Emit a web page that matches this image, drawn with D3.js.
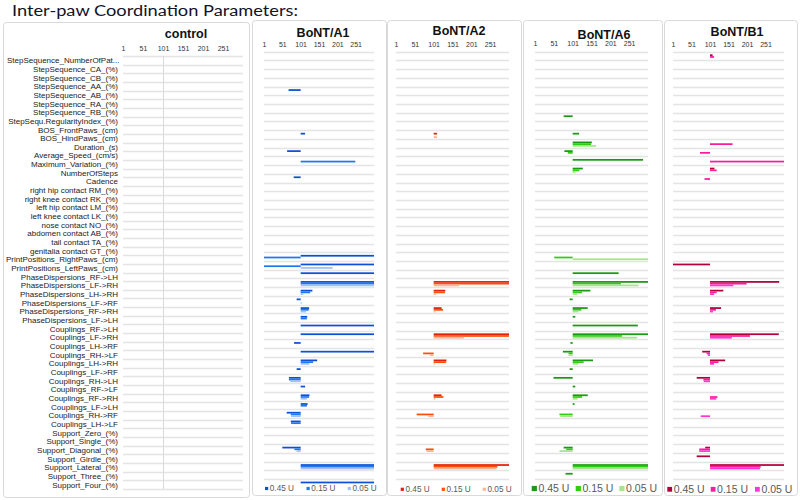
<!DOCTYPE html>
<html><head><meta charset="utf-8">
<script src="https://cdn.jsdelivr.net/npm/d3@7/dist/d3.min.js"></script>
<style>
body{margin:0;background:#fff;}
svg{display:block;font-family:"Liberation Sans",Arial,sans-serif;}
</style>
</head><body>
<svg id="chart" width="800" height="500"></svg>
<script>
// ---------------- DATA ----------------
const categories = [
 "StepSequence_NumberOfPat...","StepSequence_CA_(%)","StepSequence_CB_(%)","StepSequence_AA_(%)",
 "StepSequence_AB_(%)","StepSequence_RA_(%)","StepSequence_RB_(%)","StepSequ.RegularityIndex_(%)",
 "BOS_FrontPaws_(cm)","BOS_HindPaws_(cm)","Duration_(s)","Average_Speed_(cm/s)",
 "Maximum_Variation_(%)","NumberOfSteps","Cadence","right hip contact RM_(%)",
 "right knee contact RK_(%)","left hip contact LM_(%)","left knee contact LK_(%)","nose contact NO_(%)",
 "abdomen contact AB_(%)","tail contact TA_(%)","genitalia contact GT_(%)","PrintPositions_RightPaws_(cm)",
 "PrintPositions_LeftPaws_(cm)","PhaseDispersions_RF->LH","PhaseDispersions_LF->RH","PhaseDispersions_LH->RH",
 "PhaseDispersions_LF->RF","PhaseDispersions_RF->RH","PhaseDispersions_LF->LH","Couplings_RF->LH",
 "Couplings_LF->RH","Couplings_LH->RF","Couplings_RH->LF","Couplings_LH->RH",
 "Couplings_LF->RF","Couplings_RH->LH","Couplings_RF->LF","Couplings_RF->RH",
 "Couplings_LF->LH","Couplings_RH->RF","Couplings_LH->LF","Support_Zero_(%)",
 "Support_Single_(%)","Support_Diagonal_(%)","Support_Girdle_(%)","Support_Lateral_(%)",
 "Support_Three_(%)","Support_Four_(%)"
];
const panelTitles = ["control","BoNT/A1","BoNT/A2","BoNT/A6","BoNT/B1"];
const doses = ["0.45 U","0.15 U","0.05 U"];
const tickValues = [1,51,101,151,201,251];
const axisDomain = [1,301];
const baselineValue = 101;

// series values: [category index, value] (only non-empty bars)
const A1_045 = [[4,68],[9,113],[11,64],[14,82],[23,301],[24,301],[25,301],[26,301],[27,133],[28,90],[29,124],[30,119],[31,301],[32,301],[33,83],[34,301],[35,146],[36,90],[37,69],[38,113],[39,125],[40,120],[41,63],[42,74],[45,51],[47,301],[49,301]];
const A1_015 = [[12,250],[23,1],[24,1],[26,301],[27,127],[29,123],[30,118],[35,135],[37,69],[39,124],[40,118],[41,74],[42,75],[45,84],[47,301]];
const A1_005 = [[24,188],[26,301],[27,108],[28,104],[29,116],[35,125],[37,73],[39,118],[41,75],[45,90],[47,301]];

const A2_045 = [[9,110],[26,301],[27,132],[29,122],[32,301],[35,135],[39,122],[47,301]];
const A2_015 = [[26,301],[27,131],[29,126],[32,301],[34,73],[35,134],[39,127],[41,56],[45,80],[47,270]];
const A2_005 = [[9,110],[26,169],[27,107],[29,106],[32,181],[34,91],[35,104],[39,105],[41,87],[45,82],[47,268]];

const A6_045 = [[7,77],[9,118],[10,152],[11,79],[12,288],[13,128],[25,223],[26,301],[27,148],[28,93],[29,141],[30,108],[31,274],[32,301],[33,95],[34,75],[35,155],[36,93],[37,50],[38,108],[39,141],[40,106],[45,77],[47,301],[48,82]];
const A6_015 = [[10,150],[11,88],[13,119],[23,52],[26,229],[27,126],[29,124],[32,232],[34,90],[35,130],[39,126],[41,66],[45,84],[47,301]];
const A6_005 = [[10,163],[13,108],[23,301],[26,276],[27,113],[29,116],[32,272],[34,90],[35,116],[39,114],[41,68],[45,66],[47,301]];

const B1_045 = [[0,108],[13,113],[24,1],[26,288],[27,137],[29,131],[32,287],[34,80],[35,142],[37,65],[45,88],[46,65],[47,301]];
const B1_015 = [[0,112],[10,162],[11,74],[12,301],[13,119],[14,86],[26,200],[27,119],[29,117],[32,209],[34,92],[35,124],[37,83],[39,121],[45,72],[47,238]];
const B1_005 = [[26,164],[27,112],[29,109],[32,160],[34,95],[35,112],[37,84],[39,118],[41,76],[45,72],[47,236]];

// ---------------- LAYOUT / STYLE ----------------
const panels = [
 {title:panelTitles[0], box:[3,22,246,475], plot:[123,243], rows:[56,489], bottomLine:true,
  titleX:186, titleY:38, tickY:50.5, series:null},
 {title:panelTitles[1], box:[252,20,134,475], plot:[264,374], rows:[51.7,487.7],
  titleX:323, titleY:36.5, tickY:46.5, series:[A1_045,A1_015,A1_005],
  colors:["#0b50d6","#1f78f0","#a2c0f6"], legend:{x:[265,306.5,347.7], y:488.5, fs:8.2, ms:3.2}},
 {title:panelTitles[2], box:[387,20,134,475], plot:[396,509], rows:[51.7,487.7],
  titleX:459, titleY:35, tickY:46.5, series:[A2_045,A2_015,A2_005],
  colors:["#e3200a","#ff4f05","#f8b596"], legend:{x:[400.7,441.7,482.7], y:489.3, fs:8.2, ms:3.2}},
 {title:panelTitles[3], box:[523,20,139,475], plot:[535,648], rows:[51.7,487.7],
  titleX:604, titleY:38.5, tickY:46.2, series:[A6_045,A6_015,A6_005],
  colors:["#1a9a14","#30cc14","#a8e48c"], legend:{x:[531.7,575.7,619.3], y:488.5, fs:10.5, ms:5.2}},
 {title:panelTitles[4], box:[664,20,133,475], plot:[673,784], rows:[51.7,487.7],
  titleX:737, titleY:35.8, tickY:46.5, series:[B1_045,B1_015,B1_005],
  colors:["#b2003c","#fa1c9c","#ff36d6"], legend:{x:[667.3,710.7,755],y:489.3, fs:10.5, ms:4.8}}
];

const svg = d3.select("#chart");
svg.append("rect").attr("width",800).attr("height",500).attr("fill","#fff");

// main title
svg.append("text").attr("x",12).attr("y",15.5)
  .attr("font-family","Lato,'Open Sans',sans-serif").attr("font-size",15.5).attr("font-weight",400)
  .attr("textLength",286).attr("lengthAdjust","spacingAndGlyphs")
  .attr("fill","#12122a").text("Inter-paw Coordination Parameters:");

panels.forEach((p,pi)=>{
  const g = svg.append("g");
  g.append("rect").attr("x",p.box[0]+0.5).attr("y",p.box[1]+0.5)
    .attr("width",p.box[2]).attr("height",p.box[3]).attr("rx",3)
    .attr("fill","#fff").attr("stroke","#d9d9d9").attr("stroke-width",1);

  const x = d3.scaleLinear().domain(axisDomain).range(p.plot);
  const y = d3.scaleBand().domain(d3.range(categories.length)).range(p.rows).paddingInner(0).paddingOuter(0);
  const step = y.step();
  const sub = d3.scaleBand().domain(doses).range([0.3*step, 0.9*step]);

  // title
  g.append("text").attr("x",p.titleX).attr("y",p.titleY).attr("text-anchor","middle")
    .attr("font-size",12.5).attr("font-weight","bold").attr("fill","#111").text(p.title);

  // axis ticks (top)
  const ax = g.append("g").attr("transform",`translate(0,${p.tickY})`)
    .call(d3.axisTop(x).tickValues(tickValues).tickSize(0).tickPadding(0).tickFormat(d3.format("d")));
  ax.select(".domain").remove();
  ax.selectAll("text").attr("font-size",7).attr("fill","#333").attr("font-family","'Liberation Sans',Arial,sans-serif");

  // gridlines
  const lines = d3.range(categories.length).map(k=>y(k));
  if (p.bottomLine) lines.push(p.rows[1]);
  g.selectAll("line.grid").data(lines).join("line").attr("class","grid")
    .attr("x1",p.plot[0]).attr("x2",p.plot[1])
    .attr("y1",d=>Math.round(d)+0.5).attr("y2",d=>Math.round(d)+0.5)
    .attr("stroke","#e4e4e4").attr("stroke-width",1.3);

  if (!p.series) {
    // baseline line + category labels
    g.append("line").attr("x1",Math.round(x(baselineValue))+0.5).attr("x2",Math.round(x(baselineValue))+0.5)
      .attr("y1",p.rows[0]).attr("y2",p.rows[1]).attr("stroke","#d9d9d9").attr("stroke-width",1);
    g.selectAll("text.cat").data(categories).join("text").attr("class","cat")
      .attr("x",d=>d.endsWith("...")?7:118)
      .attr("text-anchor",d=>d.endsWith("...")?"start":"end")
      .attr("y",(d,i)=>y(i)+step/2+2.9)
      .attr("font-size",8).attr("fill","#222").text(d=>d);
    return;
  }

  // bars
  p.series.forEach((s,si)=>{
    g.append("g").selectAll("rect").data(s).join("rect")
      .attr("x",d=>Math.min(x(baselineValue),x(Math.max(axisDomain[0],Math.min(axisDomain[1],d[1])))))
      .attr("width",d=>Math.abs(x(Math.max(axisDomain[0],Math.min(axisDomain[1],d[1])))-x(baselineValue)))
      .attr("y",d=>y(d[0])+sub(doses[si]))
      .attr("height",sub.bandwidth())
      .attr("fill",p.colors[si]);
  });

  // legend
  const lg = g.append("g");
  doses.forEach((d,di)=>{
    lg.append("rect").attr("x",p.legend.x[di]).attr("y",p.legend.y-p.legend.ms/2)
      .attr("width",p.legend.ms).attr("height",p.legend.ms).attr("fill",p.colors[di]);
    lg.append("text").attr("x",p.legend.x[di]+p.legend.ms+1.6).attr("y",p.legend.y+p.legend.fs*0.36)
      .attr("font-size",p.legend.fs).attr("fill","#595959").text(d);
  });
});
</script>
</body></html>
